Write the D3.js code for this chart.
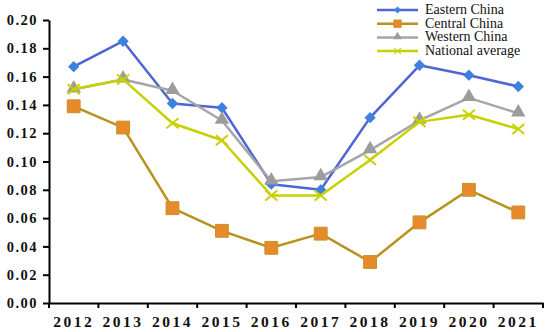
<!DOCTYPE html>
<html>
<head>
<meta charset="utf-8">
<script src="https://cdn.jsdelivr.net/npm/d3@7"></script>
<style>
  body { margin: 0; background: #fff; }
  svg { display: block; }
  text { font-family: "Liberation Serif", "Times New Roman", Tinos, "DejaVu Serif", serif; }
</style>
</head>
<body>
<svg width="550" height="332"></svg>
<script>
// data
let years = ["2012", "2013", "2014", "2015", "2016", "2017", "2018", "2019", "2020", "2021"];
let eastern = [0.167, 0.185, 0.141, 0.138, 0.084, 0.080, 0.131, 0.168, 0.161, 0.153];
let central = [0.139, 0.124, 0.067, 0.051, 0.039, 0.049, 0.029, 0.057, 0.080, 0.064];
let western = [0.151, 0.158, 0.150, 0.129, 0.086, 0.089, 0.108, 0.129, 0.145, 0.134];
let national = [0.151, 0.158, 0.127, 0.115, 0.076, 0.076, 0.101, 0.128, 0.133, 0.123];
let yTicks = [0, 0.02, 0.04, 0.06, 0.08, 0.10, 0.12, 0.14, 0.16, 0.18, 0.20];

let series = [
    {name: "Eastern China", values: eastern, line: "#5064d4", fill: "#3d80de", shape: "diamond"},
    {name: "Central China", values: central, line: "#b8921e", fill: "#e68a2c", shape: "square"},
    {name: "Western China", values: western, line: "#a6a6a6", fill: "#9c9c9c", shape: "triangle"},
    {name: "National average", values: national, line: "#c8d000", fill: "#c8d000", shape: "cross"}
];

let serif = '"Liberation Serif", "Times New Roman", Tinos, "DejaVu Serif", serif';

let svg = d3.select("svg"),
    margin = {top: 20, right: 7, bottom: 29, left: 49},
    width = +svg.attr("width") - margin.left - margin.right,
    height = +svg.attr("height") - margin.top - margin.bottom;

let g = svg.append("g").attr("transform", "translate(" + margin.left + "," + margin.top + ")");

let x = d3.scaleBand().domain(years).range([0, width]);
let y = d3.scaleLinear().domain([0, 0.2]).range([height, 0]);

// y axis
let yAxis = d3.axisLeft(y).tickValues(yTicks).tickFormat(d3.format(".2f")).tickSize(6).tickSizeOuter(0);
let gy = g.append("g").call(yAxis).attr("font-family", serif);
gy.select(".domain").attr("stroke", "#000").attr("stroke-width", 2);
gy.selectAll(".tick line").attr("stroke", "#000").attr("stroke-width", 2);
gy.selectAll("text")
    .attr("x", -11)
    .attr("fill", "#111")
    .style("font-family", serif)
    .style("font-size", "14.5px")
    .style("font-weight", "bold")
    .style("letter-spacing", "1.5px");

// x axis: labels centred in bands, ticks on band edges
let xAxis = d3.axisBottom(x).tickSize(0).tickSizeOuter(0);
let gx = g.append("g").attr("transform", "translate(0," + height + ")").call(xAxis).attr("font-family", serif);
gx.select(".domain").attr("stroke", "#000").attr("stroke-width", 2);
gx.selectAll("text")
    .attr("y", 13)
    .attr("fill", "#111")
    .style("font-family", serif)
    .style("font-size", "15.5px")
    .style("font-weight", "bold")
    .style("letter-spacing", "2.5px");

let edges = years.map(function (d) { return x(d); }).concat([x(years[years.length - 1]) + x.bandwidth()]);
gx.selectAll(".edge")
    .data(edges)
    .enter()
    .append("line")
    .attr("class", "edge")
    .attr("x1", function (d) { return d; })
    .attr("x2", function (d) { return d; })
    .attr("y1", 0)
    .attr("y2", 5)
    .attr("stroke", "#000")
    .attr("stroke-width", 2);

function markerPath(shape) {
    if (shape === "diamond") return d3.symbol().type(d3.symbolSquare).size(64)();
    if (shape === "square") return d3.symbol().type(d3.symbolSquare).size(165)();
    if (shape === "triangle") return d3.symbol().type(d3.symbolTriangle).size(90)();
    return "M-6,-5L6,5M-6,5L6,-5";
}

function drawMarker(sel, s) {
    sel.append("path")
        .attr("d", markerPath(s.shape))
        .attr("transform", function () {
            return s.shape === "diamond" ? "rotate(45)" : (s.shape === "triangle" ? "translate(0,-1)" : null);
        })
        .attr("fill", s.shape === "cross" ? "none" : s.fill)
        .attr("stroke", s.shape === "cross" ? s.line : (s.shape === "square" ? "#c9902a" : "none"))
        .attr("stroke-width", s.shape === "cross" ? 2 : 1);
}

let lineGenerator = d3.line()
    .x(function (d, i) { return x(years[i]) + x.bandwidth() / 2; })
    .y(function (d) { return y(d); });

series.forEach(function (s) {
    g.append("path")
        .attr("fill", "none")
        .attr("stroke", s.line)
        .attr("stroke-width", 2.5)
        .attr("stroke-linejoin", "round")
        .attr("d", lineGenerator(s.values));

    g.selectAll(null)
        .data(s.values)
        .enter()
        .append("g")
        .attr("transform", function (d, i) {
            return "translate(" + (x(years[i]) + x.bandwidth() / 2) + "," + y(d) + ")";
        })
        .each(function () { drawMarker(d3.select(this), s); });
});

// legend
let legend = svg.append("g").attr("transform", "translate(377,10)");
series.forEach(function (s, i) {
    let row = legend.append("g").attr("transform", "translate(0," + (i * 13.7) + ")");
    row.append("line")
        .attr("x1", 0).attr("x2", 41)
        .attr("stroke", s.line)
        .attr("stroke-width", 2.5);
    let m = row.append("g").attr("transform", "translate(20.5,0) scale(0.6)");
    drawMarker(m, s);
    row.append("text")
        .attr("x", 48)
        .attr("y", 4)
        .attr("fill", "#111")
        .style("font-family", serif)
        .style("font-size", "14px")
        .text(s.name);
});
</script>
</body>
</html>
